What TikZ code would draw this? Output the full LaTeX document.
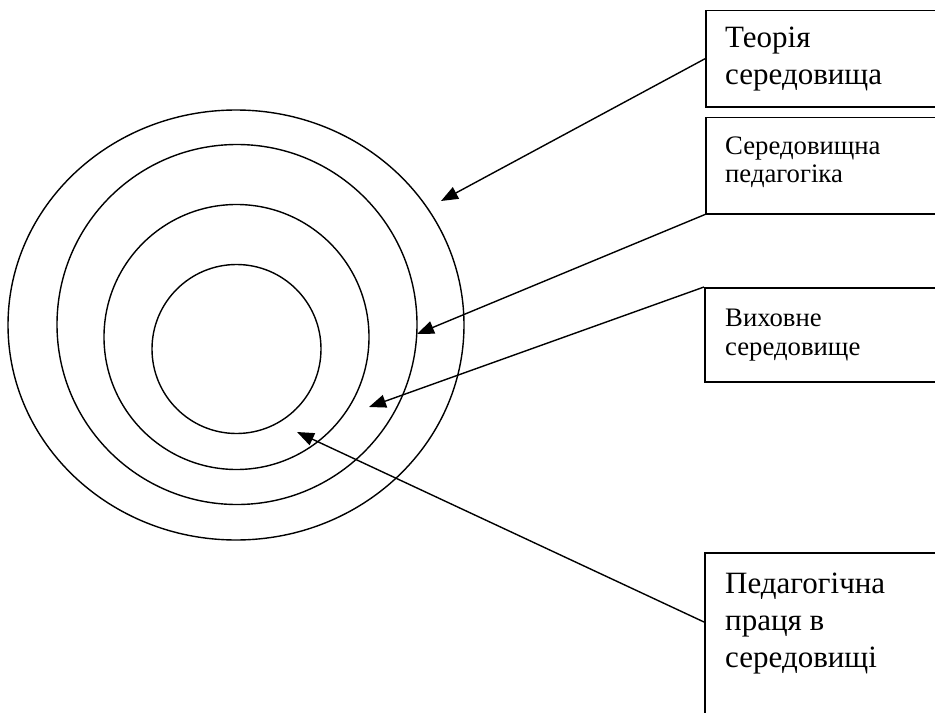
\documentclass[tikz,border=0pt]{standalone}
\usepackage{fontspec}
\setmainfont{Liberation Serif}
\usetikzlibrary{arrows.meta,calc}
\begin{document}
\begin{tikzpicture}[x=1bp,y=-1bp,
  ring/.style={draw, line width=1.4bp},
  boxframe/.style={draw, line width=1.5bp, rectangle, inner sep=0pt, anchor=north west, minimum width=280bp},
  bigtxt/.style={font=\fontsize{31bp}{37bp}\selectfont, align=left, inner sep=0pt, anchor=base west},
  smalltxt/.style={font=\fontsize{26.7bp}{28.5bp}\selectfont, align=left, inner sep=0pt, anchor=base west},
  pointer/.style={line width=1.4bp, -{Triangle[length=17bp,width=13bp]}}]
\clip (0,0) rectangle (935,713);
% rings
\draw[ring] (236,325) ellipse [x radius=228, y radius=215];
\draw[ring] (237,324.5) circle [radius=180];
\draw[ring] (236.5,337) circle [radius=132.5];
\draw[ring] (236.5,349) circle [radius=84.5];
% boxes
\node[boxframe, minimum height=96bp] (b1) at (705,10) {};
\node[boxframe, minimum height=96bp] (b2) at (705,117) {};
\node[boxframe, minimum height=94bp] (b3) at (704,287) {};
\node[boxframe, minimum height=220bp] (b4) at (704,552) {};
% texts (base = last line's baseline)
\node[bigtxt] (t1) at (725,85) {Теорія\\середовища};
\node[smalltxt] (t2) at (725,183) {Середовищна\\педагогіка};
\node[smalltxt] (t3) at (725,355) {Виховне\\середовище};
\node[bigtxt] (t4) at (725,667) {Педагогічна\\праця в\\середовищі};
% arrow tips
\coordinate (p1) at (441,201);
\coordinate (p2) at (417,334);
\coordinate (p3) at (369,407);
\coordinate (p4) at (297,432);
% arrows
\draw[pointer] (b1.west) -- (p1);
\draw[pointer] (b2.south west) -- (p2);
\draw[pointer] (b3.north west) -- (p3);
\draw[pointer] ($(b4.north west)+(0,70)$) -- (p4);
\end{tikzpicture}
\end{document}
